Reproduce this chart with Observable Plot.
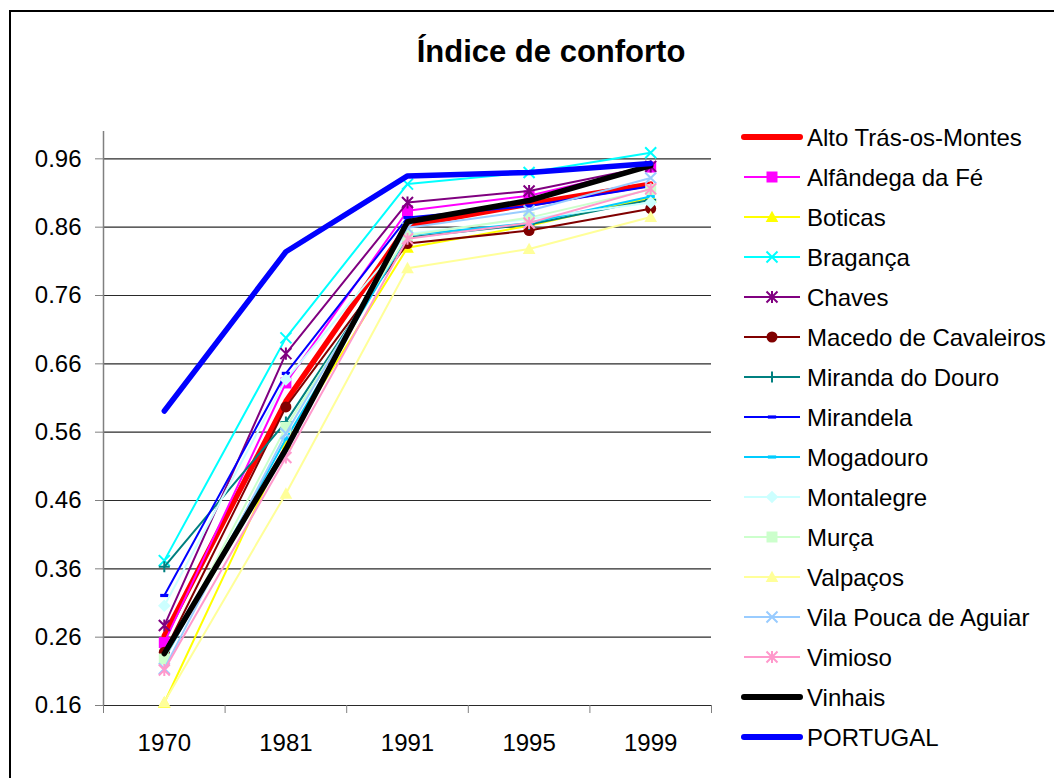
<!DOCTYPE html>
<html>
<head>
<meta charset="utf-8">
<script src="https://cdn.jsdelivr.net/npm/d3@7"></script>
<script src="https://cdn.jsdelivr.net/npm/@observablehq/plot@0.6"></script>
<style>
  body { margin: 0; background: #fff; font-family: "Liberation Sans", Arial, sans-serif; }
  #wrap { position: relative; width: 1054px; height: 778px; overflow: hidden; background: #fff; }
  #frame { position: absolute; left: 9px; top: 10px; width: 1200px; height: 1000px;
           border-left: 2px solid #000; border-top: 2px solid #000; }
  #title { position: absolute; left: 0; width: 1102px; top: 34px; text-align: center;
           font: bold 31px "Liberation Sans", Arial, sans-serif; color: #000; }
  #chart, #legend { position: absolute; left: 0; top: 0; }
</style>
</head>
<body>
<div id="wrap">
  <div id="frame"></div>
  <div id="title">Índice de conforto</div>
  <div id="chart"></div>
  <svg id="legend" width="1054" height="778"></svg>
</div>
<script>
// ---------- data ----------
const years = ["1970", "1981", "1991", "1995", "1999"];
const yTicks = [0.16, 0.26, 0.36, 0.46, 0.56, 0.66, 0.76, 0.86, 0.96];
const names = [
  "Alto Trás-os-Montes", "Alfândega da Fé", "Boticas", "Bragança", "Chaves",
  "Macedo de Cavaleiros", "Miranda do Douro", "Mirandela", "Mogadouro", "Montalegre",
  "Murça", "Valpaços", "Vila Pouca de Aguiar", "Vimioso", "Vinhais", "PORTUGAL"
];
const altoTrasOsMontes   = [0.262, 0.605, 0.862, 0.894, 0.923];
const alfandegaDaFe      = [0.252, 0.632, 0.884, 0.906, 0.948];
const boticas            = [0.164, 0.543, 0.830, 0.862, 0.903];
const braganca           = [0.372, 0.698, 0.923, 0.940, 0.969];
const chaves             = [0.277, 0.675, 0.896, 0.913, 0.949];
const macedoDeCavaleiros = [0.238, 0.597, 0.836, 0.855, 0.887];
const mirandaDoDouro     = [0.363, 0.575, 0.845, 0.864, 0.900];
const mirandela          = [0.321, 0.646, 0.874, 0.891, 0.920];
const mogadouro          = [0.228, 0.550, 0.848, 0.866, 0.905];
const montalegre         = [0.306, 0.637, 0.850, 0.872, 0.896];
const murca              = [0.228, 0.567, 0.848, 0.874, 0.915];
const valpacos           = [0.165, 0.470, 0.800, 0.828, 0.875];
const vilaPoucaDeAguiar  = [0.214, 0.558, 0.859, 0.884, 0.932];
const vimioso            = [0.212, 0.523, 0.843, 0.866, 0.916];
const vinhais            = [0.236, 0.535, 0.868, 0.899, 0.950];
const portugal           = [0.591, 0.824, 0.935, 0.940, 0.953];

const seriesValues = [altoTrasOsMontes, alfandegaDaFe, boticas, braganca, chaves,
  macedoDeCavaleiros, mirandaDoDouro, mirandela, mogadouro, montalegre,
  murca, valpacos, vilaPoucaDeAguiar, vimioso, vinhais, portugal];

// ---------- styles ----------
const colors = ["#FF0000", "#FF00FF", "#FFFF00", "#00FFFF", "#800080",
  "#800000", "#008080", "#0000FF", "#00CCFF", "#CCFFFF",
  "#CCFFCC", "#FFFF99", "#99CCFF", "#FF99CC", "#000000", "#0000FF"];
const widths = [5.5, 2, 2, 2, 2, 2, 2, 2, 2, 2, 2, 2, 2, 2, 5.5, 5.5];
const markers = [null, "square", "triangle", "x", "star", "circle", "plus", "dash",
  "dash", "diamond", "square", "triangle", "x", "star", null, null];

const rad = size => Math.sqrt(size / Math.PI);
const symbols = {
  square:   { draw(c, s) { const r = rad(s); c.rect(-r, -r, 2 * r, 2 * r); } },
  triangle: { draw(c, s) { const r = rad(s) * 1.15; c.moveTo(0, -r); c.lineTo(r, r * 0.8); c.lineTo(-r, r * 0.8); c.closePath(); } },
  circle:   { draw(c, s) { const r = rad(s); c.moveTo(r, 0); c.arc(0, 0, r, 0, 2 * Math.PI); } },
  diamond:  { draw(c, s) { const r = rad(s) * 1.15; c.moveTo(0, -r); c.lineTo(r, 0); c.lineTo(0, r); c.lineTo(-r, 0); c.closePath(); } },
  dash:     { draw(c, s) { const r = rad(s) * 0.75; c.rect(-r, -1.6, 2 * r, 3.2); } },
  x:        { draw(c, s) { const r = rad(s); c.moveTo(-r, -r); c.lineTo(r, r); c.moveTo(-r, r); c.lineTo(r, -r); } },
  star:     { draw(c, s) { const r = rad(s); c.moveTo(-r, -r); c.lineTo(r, r); c.moveTo(-r, r); c.lineTo(r, -r); c.moveTo(0, -r * 1.1); c.lineTo(0, r * 1.1); } },
  plus:     { draw(c, s) { const r = rad(s); c.moveTo(0, -r); c.lineTo(0, r); c.moveTo(-r, 0); c.lineTo(r, 0); } }
};
const filled = new Set(["square", "triangle", "circle", "diamond", "dash"]);

const rows = names.map((name, i) =>
  seriesValues[i].map((v, j) => ({ name, x: j, v })));

const seriesMarks = rows.flatMap((data, i) => {
  const m = [Plot.line(data, { x: "x", y: "v", stroke: colors[i], strokeWidth: widths[i],
    strokeLinejoin: "round", strokeLinecap: "round" })];
  const k = markers[i];
  if (k) {
    m.push(Plot.dot(data, {
      x: "x", y: "v", r: 5.5, symbol: symbols[k],
      fill: filled.has(k) ? colors[i] : "none",
      stroke: filled.has(k) ? "none" : colors[i],
      strokeWidth: filled.has(k) ? 0 : 2
    }));
  }
  return m;
});

const chart = Plot.plot({
  width: 1054, height: 778,
  marginLeft: 103, marginRight: 343, marginTop: 131, marginBottom: 73,
  x: { type: "linear", domain: [-0.5, years.length - 0.5] },
  y: { domain: [0.16, 1.0] },
  style: { fontFamily: "'Liberation Sans', Arial, sans-serif", fontSize: "24px",
           color: "#000", background: "transparent", overflow: "visible" },
  marks: [
    Plot.ruleY(yTicks, { stroke: "#2a2a2a", strokeWidth: 1.2 }),
    Plot.ruleX([-0.5], { stroke: "#808080", strokeWidth: 1.5 }),
    Plot.axisY({ ticks: yTicks, tickFormat: d3.format(".2f"), tickSize: 8, tickPadding: 14,
                 label: null, stroke: "#808080", strokeOpacity: 1, fill: "#000" }),
    Plot.axisX({ ticks: d3.range(-0.5, years.length, 1), tickFormat: () => "", tickSize: 8,
                 label: null, stroke: "#808080", strokeOpacity: 1 }),
    Plot.axisX({ ticks: d3.range(years.length), tickFormat: i => years[i], tickSize: 0,
                 tickPadding: 28, label: null, fill: "#000" }),
    ...seriesMarks
  ]
});
document.getElementById("chart").appendChild(chart);

// ---------- legend ----------
const legend = d3.select("#legend");
const lx0 = 744, lx1 = 800, ltx = 807, ly0 = 137, ldy = 40;
names.forEach((name, i) => {
  const y = ly0 + i * ldy;
  const g = legend.append("g");
  g.append("line").attr("x1", lx0).attr("x2", lx1).attr("y1", y).attr("y2", y)
    .attr("stroke", colors[i]).attr("stroke-width", widths[i] > 3 ? 6 : 2)
    .attr("stroke-linecap", widths[i] > 3 ? "round" : "butt");
  const k = markers[i];
  if (k) {
    g.append("path")
      .attr("transform", `translate(${(lx0 + lx1) / 2},${y})`)
      .attr("d", d3.symbol().type(symbols[k]).size(Math.PI * 5.5 * 5.5)())
      .attr("fill", filled.has(k) ? colors[i] : "none")
      .attr("stroke", filled.has(k) ? "none" : colors[i])
      .attr("stroke-width", 2);
  }
  g.append("text").attr("x", ltx).attr("y", y).attr("dy", "0.36em")
    .attr("font-family", "'Liberation Sans', Arial, sans-serif")
    .attr("font-size", 24).attr("fill", "#000").text(name);
});
</script>
</body>
</html>
